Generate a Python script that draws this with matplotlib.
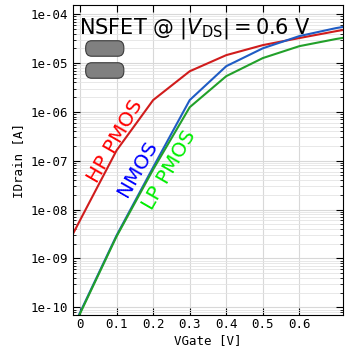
import numpy as np
import matplotlib
matplotlib.use('Agg')
import matplotlib.pyplot as plt
from matplotlib.ticker import FuncFormatter, LogLocator, NullFormatter
from matplotlib.patches import FancyBboxPatch

# gate voltage sweep [V]
vgate = [-0.1, 0.0, 0.1, 0.2, 0.3, 0.4, 0.5, 0.6, 0.7, 0.8]

# log10 of drain current [A]
log_hp_pmos = [-9.66, -8.22, -6.79, -5.76, -5.17, -4.84, -4.635, -4.49, -4.35, -4.225]
log_nmos = [-11.68, -10.11, -8.53, -7.135, -5.76, -5.066, -4.70, -4.45, -4.287, -4.164]
log_lp_pmos = [-11.73, -10.13, -8.55, -7.18, -5.906, -5.27, -4.90, -4.656, -4.51, -4.39]

xticks = [0, 0.1, 0.2, 0.3, 0.4, 0.5, 0.6]

mono = 'DejaVu Sans Mono'

fig = plt.figure(figsize=(3.45, 3.49), dpi=100)
ax = fig.add_axes([0.2107, 0.0974, 0.7843, 0.888])

ax.plot(vgate, 10 ** np.array(log_hp_pmos), color='#d01c1c', lw=1.5)
ax.plot(vgate, 10 ** np.array(log_nmos), color='#1f5cc4', lw=1.5)
ax.plot(vgate, 10 ** np.array(log_lp_pmos), color='#22a02a', lw=1.5)

ax.set_yscale('log')
ax.set_xlim(-0.02, 0.72)
ax.set_ylim(10 ** -10.158, 10 ** -3.816)

ax.set_xticks(xticks)
ax.set_xticklabels([f'{t:g}' for t in xticks], family=mono, fontsize=9)
ax.yaxis.set_major_locator(LogLocator(base=10, numticks=20))
ax.yaxis.set_minor_locator(LogLocator(base=10, subs=np.arange(2, 10), numticks=20))
ax.yaxis.set_major_formatter(FuncFormatter(lambda v, p: f'{v:.0e}'))
ax.yaxis.set_minor_formatter(NullFormatter())
for lab in ax.get_yticklabels():
    lab.set_family(mono)
    lab.set_fontsize(9)

ax.tick_params(which='both', direction='in', top=True, right=True)
ax.tick_params(which='major', length=5)
ax.tick_params(which='minor', length=2.5)
ax.tick_params(axis='x', pad=2.5)

ax.grid(True, which='major', color='#d8d8d8', lw=0.8)
ax.grid(True, which='minor', color='#e4e4e4', lw=0.6)
ax.set_axisbelow(True)

ax.set_xlabel('VGate [V]', family=mono, fontsize=9, labelpad=1.5)
ax.set_ylabel('IDrain [A]', family=mono, fontsize=9)

ax.text(0.022, 0.925, r'NSFET @ $|V_{\rm DS}| = 0.6$ V', transform=ax.transAxes,
        fontsize=15, va='center', ha='left')

for yb in [0.835, 0.764]:
    box = FancyBboxPatch((0.048, yb), 0.141, 0.05, boxstyle='round,pad=0,rounding_size=0.022',
                         transform=ax.transAxes, facecolor='#808080', edgecolor='#3a3a3a', lw=0.8)
    ax.add_patch(box)

ax.text(0.156, 0.562, 'HP PMOS', color='red', fontsize=14.5, rotation=60,
        ha='center', va='center', transform=ax.transAxes)
ax.text(0.239, 0.471, 'NMOS', color='blue', fontsize=14.5, rotation=60,
        ha='center', va='center', transform=ax.transAxes)
ax.text(0.356, 0.468, 'LP PMOS', color='#00ee00', fontsize=14.5, rotation=60,
        ha='center', va='center', transform=ax.transAxes)

fig.savefig('out.png', dpi=100)
